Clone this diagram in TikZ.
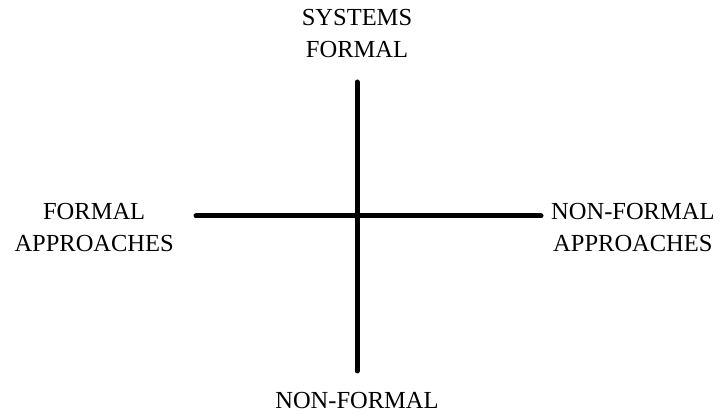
\documentclass[tikz,border=0pt]{standalone}
\usepackage{fontspec}
\setmainfont{Liberation Serif}
\usepackage{tikz}
\usetikzlibrary{positioning}

\begin{document}
\begin{tikzpicture}[
    x=1pt, y=1pt,
    term/.style={align=center, inner sep=0pt, font=\fontsize{24.5}{32}\selectfont},
    bar/.style={line width=5pt, line cap=round, draw=black}
]
\useasboundingbox (0,0) rectangle (723,414);
\coordinate (vtop) at (357,332);
\coordinate (vbot) at (357,43);
\coordinate (hleft) at (196,198);
\coordinate (hright) at (541,198);

\node[term, above=24pt of vtop] (sysformal) {SYSTEMS\\FORMAL};
\node[term, below=21pt of vbot] (sysnonformal) {NON-FORMAL};
\node[term, left=22pt of hleft, yshift=-12pt] (formal) {FORMAL\\APPROACHES};
\node[term, right=10pt of hright, yshift=-12pt] (nonformal) {NON-FORMAL\\APPROACHES};

\draw[bar] (vtop) -- (vbot);
\draw[bar] (hleft) -- (hright);
\end{tikzpicture}
\end{document}
